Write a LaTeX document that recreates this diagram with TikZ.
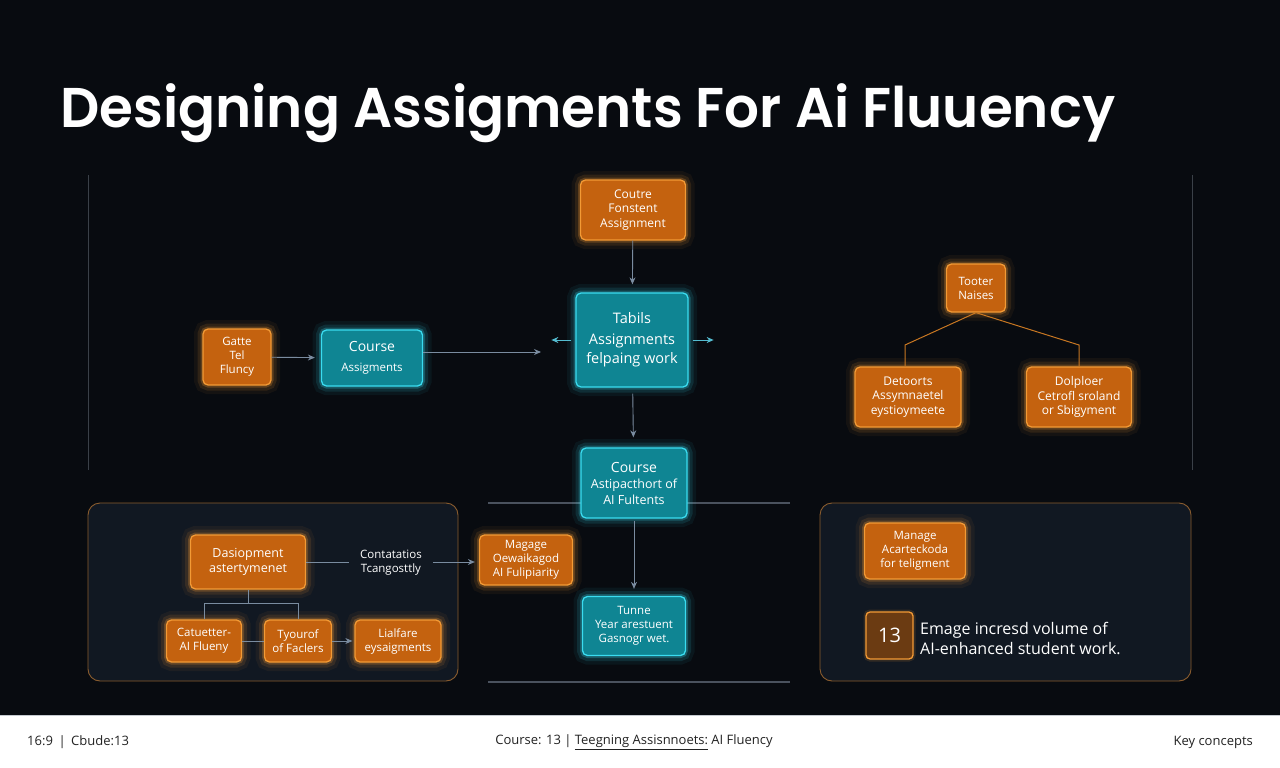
\documentclass[tikz,border=0pt]{standalone}
\usepackage{fontspec}
\setmainfont{Open Sans}
\newfontfamily\titlefont{Poppins}[BoldFont={Poppins SemiBold}]
\usetikzlibrary{arrows.meta}

\definecolor{bg}{HTML}{080B10}
\definecolor{orgfill}{HTML}{C4620F}
\definecolor{orgedge}{HTML}{F39A35}
\definecolor{cyfill}{HTML}{0F8593}
\definecolor{cyedge}{HTML}{3ADCF0}
\definecolor{conn}{HTML}{7A8CA0}
\definecolor{panelfill}{HTML}{111822}
\definecolor{paneledge}{HTML}{8A5C2E}
\definecolor{guide}{HTML}{3A4048}
\definecolor{guide2}{HTML}{4A525E}
\definecolor{treeline}{HTML}{C87722}
\definecolor{numfill}{HTML}{6B3B12}
\definecolor{footline}{HTML}{C5CAD0}
\definecolor{foottext}{HTML}{222222}

\newsavebox\titlebox

\tikzset{
  basebox/.style={line width=1.3pt, rounded corners=5pt, text=white, align=center,
    inner sep=2pt, font=\fontsize{11.5}{14}\selectfont},
  obox/.style={basebox, draw=orgedge, fill=orgfill,
    preaction={draw=orgedge, draw opacity=0.06, line width=18pt},
    preaction={draw=orgedge, draw opacity=0.12, line width=11pt},
    preaction={draw=orgedge, draw opacity=0.25, line width=5pt}},
  cbox/.style={basebox, draw=cyedge, fill=cyfill,
    preaction={draw=cyedge, draw opacity=0.06, line width=18pt},
    preaction={draw=cyedge, draw opacity=0.12, line width=11pt},
    preaction={draw=cyedge, draw opacity=0.25, line width=5pt}},
  conn line/.style={draw=conn, line width=0.9pt},
  conn arrow/.style={conn line, -{Stealth[length=7pt,width=6pt]}},
  tree line/.style={draw=treeline, line width=1pt},
  guide line/.style={draw=guide, line width=0.8pt},
  panel/.style={draw=paneledge, fill=panelfill, line width=0.9pt, rounded corners=12pt},
  foot/.style={text=foottext, font=\fontsize{13}{15}\selectfont, inner sep=0pt}
}

\begin{document}
\sbox\titlebox{\color{white}\titlefont\bfseries\fontsize{56}{60}\selectfont Designing Assigments For Ai Fluuency}%
\pgfmathsetmacro{\tsx}{1055/\the\wd\titlebox}%
\begin{tikzpicture}[x=1pt,y=-1pt]
\useasboundingbox (0,0) rectangle (1280,768);
\fill[bg] (0,0) rectangle (1280,768);

% title
\node[anchor=base west, inner sep=0pt, text=white] (title) at (60,127) {\scalebox{\tsx}[1]{\usebox\titlebox}};

% guides
\coordinate (gl1) at (88,175); \coordinate (gl2) at (88,470);
\coordinate (gr1) at (1192,175); \coordinate (gr2) at (1192,470);
\draw[guide line] (gl1) -- (gl2);
\draw[guide line] (gr1) -- (gr2);
\coordinate (h1a) at (488,503); \coordinate (h1b) at (790,503);
\coordinate (h2a) at (488,682); \coordinate (h2b) at (790,682);
\draw[guide line, draw=guide2, line width=1.1pt] (h1a) -- (h1b);
\draw[guide line, draw=guide2, line width=1.1pt] (h2a) -- (h2b);

% panels
\node[panel, minimum width=370pt, minimum height=178pt] (lpanel) at (273,592) {};
\node[panel, minimum width=371pt, minimum height=178pt] (rpanel) at (1005.5,592) {};

% top centre column
\node[obox, minimum width=105pt, minimum height=60pt, font=\fontsize{12}{14.5}\selectfont] (cfa) at (633,210) {Coutre\\Fonstent\\Assignment};
\node[cbox, minimum width=112pt, minimum height=94pt, font=\fontsize{14.5}{19}\selectfont] (tabls) at (632,340) {Tabils\\[2pt]Assignments\\felpaing work};
\node[cbox, minimum width=106pt, minimum height=70pt, font=\fontsize{12.5}{16}\selectfont] (course) at (634,483) {{\fontsize{14}{16}\selectfont Course}\\Astipacthort of\\AI Fultents};
\node[cbox, minimum width=103pt, minimum height=59pt] (tunne) at (634,626) {Tunne\\Year arestuent\\Gasnogr wet.};

% left row
\node[obox, minimum width=68pt, minimum height=56pt] (gatte) at (237,357) {Gatte\\Tel\\Fluncy};
\node[cbox, minimum width=101pt, minimum height=56pt] (ca) at (372,358) {{\fontsize{14}{16}\selectfont Course}\\[6pt]Assigments};
\coordinate (caend) at (541,352);

% right tree
\node[obox, minimum width=59pt, minimum height=48pt] (tooter) at (976,288) {Tooter\\Naises};
\node[obox, minimum width=106pt, minimum height=60pt, font=\fontsize{12}{14.5}\selectfont] (detoorts) at (908,397) {Detoorts\\Assymnaetel\\eystioymeete};
\node[obox, minimum width=105pt, minimum height=60pt, font=\fontsize{12}{14.5}\selectfont] (dolploer) at (1079,397) {Dolploer\\Cetrofl sroland\\or Sbigyment};
\coordinate (tj1) at (905,345);
\coordinate (tj2) at (1079,345);

% bottom left panel content
\node[obox, minimum width=115pt, minimum height=54pt, font=\fontsize{12.5}{15}\selectfont] (dasio) at (248,562) {Dasiopment\\astertymenet};
\node[text=white, align=center, inner sep=0pt, font=\fontsize{11.5}{14}\selectfont] (lbl) at (391,563) {Contatatios\\Tcangosttly};
\node[obox, minimum width=93pt, minimum height=50pt] (magage) at (526,560) {Magage\\Oewaikagod\\AI Fulipiarity};
\node[obox, minimum width=75pt, minimum height=42pt] (catu) at (204,641) {Catuetter-\\AI Flueny};
\node[obox, minimum width=67pt, minimum height=42pt] (tyour) at (298,641) {Tyourof\\of Faclers};
\node[obox, minimum width=86pt, minimum height=42pt] (lialf) at (398,641) {Lialfare\\eysaigments};

% bottom right panel content
\node[obox, minimum width=101pt, minimum height=56pt] (manage) at (915,551) {Manage\\Acarteckoda\\for teligment};
\node[draw=orgedge, fill=numfill, line width=1.3pt, rounded corners=4pt, minimum width=47pt, minimum height=47pt, text=white, font=\fontsize{20}{22}\selectfont,
  preaction={draw=orgedge, draw opacity=0.15, line width=5pt}] (num) at (889.5,635.5) {13};
\node[anchor=west, text=white, align=left, inner sep=0pt, font=\fontsize{16}{20}\selectfont] (numtext) at (920,638) {Emage incresd volume of\\AI-enhanced student work.};

% connectors
\draw[conn arrow, shorten >=6pt] (gatte) -- (ca);
\draw[conn arrow] (ca.east |- caend) -- (caend);
\draw[conn arrow, draw=cyedge!60!conn] ([xshift=-4pt]tabls.west) -- ++(-20,0) coordinate (tlst);
\draw[conn arrow, draw=cyedge!60!conn] ([xshift=4pt]tabls.east) -- ++(21,0) coordinate (trst);
\draw[conn arrow, shorten >=8pt] (cfa) -- (tabls);
\draw[conn arrow, shorten <=6pt, shorten >=10pt] (tabls) -- (course);
\draw[conn arrow, shorten <=2pt, shorten >=7pt] (course) -- (tunne);

\draw[tree line] (tooter.south) -- (tj1) -- (tj1 |- detoorts.north);
\draw[tree line] (tooter.south) -- (tj2) -- (tj2 |- dolploer.north);

\draw[conn line] (dasio.east) -- ([xshift=-11pt]lbl.west |- dasio.east);
\draw[conn arrow] ([xshift=11pt]lbl.east |- dasio.east) -- ([xshift=-4pt]magage.west |- dasio.east);
\draw[conn line] (dasio.south) -- ++(0,14) coordinate (dj);
\draw[conn line] (dj) -| (catu.north);
\draw[conn line] (dj) -| (tyour.north);
\draw[conn line] (catu.east) -- (tyour.west);
\draw[conn arrow, shorten >=2pt] (tyour.east) -- (lialf.west);

% footer
\fill[white] (0,715) rectangle (1280,768);
\coordinate (fl1) at (0,715.5); \coordinate (fl2) at (1280,715.5);
\draw[footline, line width=1.5pt] (fl1) -- (fl2);
\node[foot, anchor=west] (f1) at (27,742) {16:9 \,|\, Cbude:13};
\node[foot] (f2) at (634,742) {Course: 13 | \underline{Teegning Assisnnoets:} AI Fluency};
\node[foot, anchor=east] (f3) at (1253,742) {Key concepts};
\end{tikzpicture}
\end{document}
